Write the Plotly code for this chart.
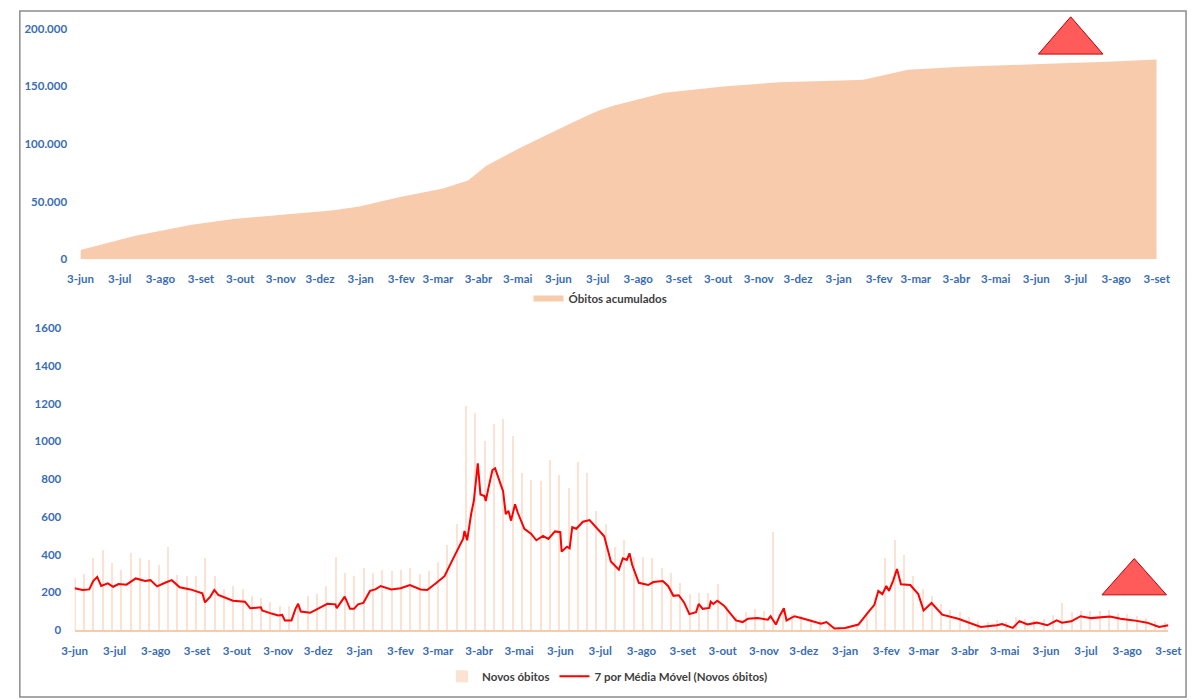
import pandas as pd
import plotly.graph_objects as go

# ---------------- data ----------------
start_date = "2020-06-03"
end_date = "2022-09-03"

month_labels = ["3-jun", "3-jul", "3-ago", "3-set", "3-out", "3-nov", "3-dez",
                "3-jan", "3-fev", "3-mar", "3-abr", "3-mai", "3-jun", "3-jul",
                "3-ago", "3-set", "3-out", "3-nov", "3-dez", "3-jan", "3-fev",
                "3-mar", "3-abr", "3-mai", "3-jun", "3-jul", "3-ago", "3-set"]

# cumulative deaths (top chart)
cum_dates = ["2020-06-03", "2020-07-15", "2020-08-27", "2020-09-28", "2020-11-04",
             "2020-12-12", "2021-01-02", "2021-02-03", "2021-03-07", "2021-03-26",
             "2021-04-09", "2021-05-05", "2021-06-11", "2021-06-27", "2021-07-04",
             "2021-07-15", "2021-08-23", "2021-10-09", "2021-11-19", "2022-01-05",
             "2022-01-22", "2022-02-25", "2022-04-07", "2022-06-01", "2022-07-27",
             "2022-09-03"]
cum_values = [8000, 20400, 30000, 34900, 38600,
              42300, 45700, 54200, 61300, 68300,
              81100, 96700, 117000, 125500, 129000,
              133000, 144400, 150000, 153500, 155000,
              155700, 164200, 167000, 169000, 171300,
              173300]

# daily new deaths: weekly peak values (bars)
daily_peaks = [277, 300, 381, 424, 355, 320, 407, 381, 374, 346,
               442, 294, 286, 286, 381, 286, 216, 234, 216, 182,
               173, 150, 130, 130, 147, 182, 190, 234, 390, 303,
               286, 329, 303, 320, 312, 320, 329, 300, 312, 364,
               450, 560, 1186, 1152, 1004, 1091, 1117, 1030, 831, 796,
               788, 900, 822, 753, 892, 831, 632, 562, 442, 476,
               390, 390, 381, 329, 303, 250, 190, 199, 199, 243,
               130, 78, 95, 113, 104, 520, 104, 87, 78, 61,
               52, 25, 17, 20, 35, 78, 147, 381, 476, 398,
               286, 216, 182, 140, 110, 95, 70, 50, 45, 55,
               45, 70, 60, 55, 60, 80, 147, 95, 100, 100,
               100, 105, 90, 85, 75, 65, 50, 45]

# 7-day moving average: day offset from start_date and value
ma_days = [0, 6, 11, 14, 17, 20, 25, 29, 33, 39, 46, 53, 57, 62, 68, 73, 79, 87,
           96, 98, 102, 105, 108, 114, 119, 128, 132, 140, 141, 148, 153, 156,
           158, 163, 166, 168, 170, 177, 190, 196, 197, 200, 203, 207, 210, 213,
           217, 222, 226, 230, 238, 245, 252, 260, 265, 272, 278, 284, 289, 292,
           293, 295, 298, 300, 303, 305, 308, 309, 311, 314, 316, 319, 322, 324,
           326, 328, 331, 333, 338, 343, 347, 352, 356, 361, 365, 366, 370, 372,
           374, 377, 382, 387, 393, 398, 403, 409, 412, 415, 417, 419, 424, 431,
           435, 442, 446, 450, 454, 458, 462, 467, 469, 472, 477, 478, 480, 483,
           488, 492, 497, 502, 506, 513, 521, 523, 527, 530, 533, 535, 541, 548,
           555, 561, 565, 571, 579, 589, 596, 601, 604, 607, 610, 612, 615, 618,
           621, 628, 634, 638, 644, 648, 652, 664, 674, 681, 693, 697, 705, 710,
           716, 723, 731, 738, 742, 749, 756, 764, 778, 786, 796, 806, 815, 822]
ma_values = [222, 213, 216, 260, 282, 234, 248, 230, 244, 241, 274, 261, 265, 232,
             251, 265, 227, 216, 196, 147, 178, 213, 187, 168, 156, 151, 116, 121,
             104, 88, 78, 81, 52, 52, 113, 140, 99, 92, 140, 137, 116, 147, 178,
             113, 113, 137, 144, 208, 216, 234, 216, 222, 239, 216, 213, 251, 286,
             372, 442, 485, 525, 476, 615, 684, 883, 718, 710, 684, 753, 848, 857,
             796, 736, 615, 632, 580, 667, 623, 537, 511, 476, 499, 483, 523, 519,
             416, 442, 433, 545, 537, 574, 583, 537, 497, 364, 320, 381, 372, 407,
             346, 251, 239, 255, 260, 234, 182, 185, 147, 85, 95, 139, 113, 118,
             151, 139, 156, 130, 95, 52, 43, 61, 64, 56, 74, 30, 78, 116, 52, 74,
             61, 48, 35, 43, 9, 12, 30, 92, 134, 208, 191, 234, 208, 260, 324, 243,
             239, 191, 104, 144, 113, 82, 61, 35, 17, 26, 33, 12, 48, 30, 40, 26,
             52, 40, 47, 74, 64, 73, 61, 52, 40, 17, 26]

# ---------------- derived ----------------
t0 = pd.Timestamp(start_date)
ma_dates = [t0 + pd.Timedelta(days=d) for d in ma_days]
week_dates = pd.date_range(start_date, periods=len(daily_peaks), freq="7D")
tick_dates = pd.date_range("2020-06-01", "2022-09-01", freq="MS") + pd.Timedelta(days=2)

W, H = 1202, 700
def px_x(x):
    return x / W
def px_y(y):
    return 1 - y / H

BLUE = "#3a6db3"
tick_font = dict(family="Lato, 'Open Sans', sans-serif", size=11.5, color=BLUE, weight="bold")
legend_font = dict(family="Lato, 'Open Sans', sans-serif", size=11.5, color="#404040", weight="bold")

fig = go.Figure()

fig.add_trace(go.Scatter(
    x=cum_dates, y=cum_values, mode="none", fill="tozeroy",
    fillcolor="#f8cbad", name="Óbitos acumulados",
    xaxis="x", yaxis="y", legend="legend"))

fig.add_trace(go.Bar(
    x=week_dates, y=daily_peaks, name="Novos óbitos",
    marker=dict(color="#f8cbad", line=dict(width=0)), opacity=0.55,
    width=1.0 * 86400000,
    xaxis="x2", yaxis="y2", legend="legend2"))

fig.add_trace(go.Scatter(
    x=ma_dates, y=ma_values, mode="lines",
    line=dict(color="#ff0000", width=2),
    name="7 por Média Móvel (Novos óbitos)",
    xaxis="x2", yaxis="y2", legend="legend2"))

common_x = dict(type="date", range=[start_date, end_date], tickvals=tick_dates,
                ticktext=month_labels, showgrid=False, zeroline=False,
                ticks="outside", ticklen=9, tickcolor="rgba(0,0,0,0)",
                tickfont=tick_font, fixedrange=True)

fig.update_layout(
    autosize=True,
    margin=dict(l=0, r=0, t=0, b=0),
    paper_bgcolor="white", plot_bgcolor="white",
    separators=",.",
    bargap=0,
    showlegend=True,
    xaxis=dict(domain=[px_x(69), px_x(1170)], anchor="y", showline=False, **common_x),
    yaxis=dict(domain=[px_y(257), px_y(22)], anchor="x", range=[0, 200000],
               tickvals=[0, 50000, 100000, 150000, 200000], tickformat=",d",
               showgrid=False, zeroline=False, showline=False,
               ticks="outside", ticklen=10, tickcolor="rgba(0,0,0,0)",
               tickfont=tick_font, fixedrange=True),
    xaxis2=dict(domain=[px_x(63), px_x(1182)], anchor="y2", showline=True,
                linecolor="#f8cbad", linewidth=1.5, **common_x),
    yaxis2=dict(domain=[px_y(635), px_y(327)], anchor="x2", range=[0, 1600],
                dtick=200, tickformat="d",
                showgrid=False, zeroline=False, showline=False,
                ticks="outside", ticklen=10, tickcolor="rgba(0,0,0,0)",
                tickfont=tick_font, fixedrange=True),
    legend=dict(orientation="h", x=0.5, xanchor="center", y=px_y(297), yanchor="middle",
                font=legend_font, bgcolor="rgba(0,0,0,0)"),
    legend2=dict(orientation="h", x=0.506, xanchor="center", y=px_y(682), yanchor="middle",
                 font=legend_font, bgcolor="rgba(0,0,0,0)"),
)

def tri(apex, left, right):
    return ("M {:.5f},{:.5f} L {:.5f},{:.5f} L {:.5f},{:.5f} Z".format(
        px_x(apex[0]), px_y(apex[1]), px_x(left[0]), px_y(left[1]),
        px_x(right[0]), px_y(right[1])))

shapes = [
    dict(type="rect", xref="paper", yref="paper",
         x0=px_x(7), x1=px_x(1200), y0=px_y(703), y1=px_y(4),
         line=dict(color="#8c8c8c", width=1.5), fillcolor="rgba(0,0,0,0)", layer="below"),
    dict(type="path", xref="paper", yref="paper", path=tri((1082, 10), (1049, 48), (1115, 48)),
         fillcolor="#ff5b5b", line=dict(color="#c00000", width=1)),
    dict(type="path", xref="paper", yref="paper", path=tri((1147, 562), (1114, 599), (1180, 599)),
         fillcolor="#ff5b5b", line=dict(color="#c00000", width=1)),
]
fig.update_layout(shapes=shapes)

fig.write_html("out.html", config={"displayModeBar": False, "responsive": True},
               default_width="100vw", default_height="100vh",
               post_script="document.body.style.margin='0';document.body.style.padding='0';document.body.style.overflow='hidden';")
